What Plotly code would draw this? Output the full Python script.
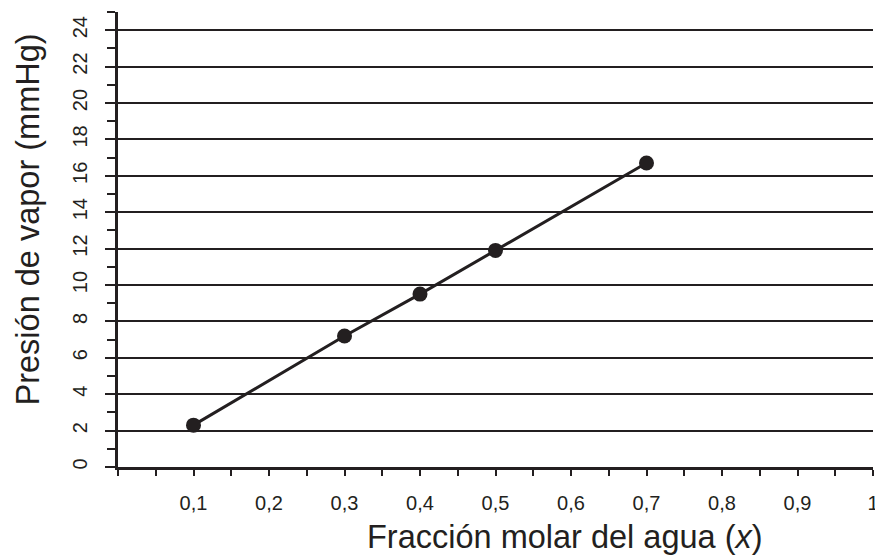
import plotly.graph_objects as go

# fracción molar del agua vs presión de vapor
fraccion = [0.1, 0.3, 0.4, 0.5, 0.7]
presion = [2.3, 7.2, 9.5, 11.9, 16.7]

x_ticks = [0.1, 0.2, 0.3, 0.4, 0.5, 0.6, 0.7, 0.8, 0.9, 1.0]
x_labels = ["0,1", "0,2", "0,3", "0,4", "0,5", "0,6", "0,7", "0,8", "0,9", "1"]
y_ticks = [0, 2, 4, 6, 8, 10, 12, 14, 16, 18, 20, 22, 24]

ink = "#231f20"
font = "Liberation Sans, Arial"

# the page body has an 8px margin, so the figure is drawn 8px smaller
OFF = 8
W, H = 883 - OFF, 556 - OFF
L, R, T, B = 118 - OFF, 6, 12 - OFF, 89
pw, ph = W - L - R, H - T - B


def px_x(x):
    return (x - OFF - L) / pw


def px_y(y):
    return (H - B - (y - OFF)) / ph


fig = go.Figure()
fig.add_trace(go.Scatter(
    x=fraccion, y=presion, mode="lines+markers",
    line=dict(color=ink, width=3),
    marker=dict(color=ink, size=15),
    showlegend=False,
))

fig.update_xaxes(
    range=[0, 1], showline=True, linecolor=ink, linewidth=2.5,
    tickvals=x_ticks, ticktext=x_labels, ticks="outside", ticklen=6,
    tickwidth=2, tickcolor=ink, ticklabelstandoff=10,
    minor=dict(ticks="outside", dtick=0.05, ticklen=6, tickwidth=2, tickcolor=ink, showgrid=False),
    showgrid=False, zeroline=False,
    tickfont=dict(family=font, size=20, color=ink),
)
fig.update_yaxes(
    range=[0, 25], showline=True, linecolor=ink, linewidth=2.5,
    tickvals=y_ticks, ticks="outside", ticklen=10, tickwidth=2, tickcolor=ink,
    tickangle=-90, ticklabelstandoff=10,
    minor=dict(ticks="outside", dtick=1, ticklen=8, tickwidth=2, tickcolor=ink, showgrid=False),
    showgrid=True, gridcolor=ink, gridwidth=2, zeroline=False,
    tickfont=dict(family=font, size=20, color=ink),
)

fig.add_annotation(
    text="Fracción molar del agua (<i>x</i>)",
    x=px_x(567), y=px_y(537), xref="paper", yref="paper",
    xanchor="center", yanchor="middle", showarrow=False,
    font=dict(family=font, size=32.5, color=ink),
)
fig.add_annotation(
    text="Presión de vapor (mmHg)", textangle=-90,
    x=px_x(28), y=px_y(219), xref="paper", yref="paper",
    xanchor="center", yanchor="middle", showarrow=False,
    font=dict(family=font, size=32.5, color=ink),
)

fig.update_layout(
    width=W, height=H,
    margin=dict(l=L, r=R, t=T, b=B),
    plot_bgcolor="white", paper_bgcolor="white",
)

fig.write_html("out.html")
